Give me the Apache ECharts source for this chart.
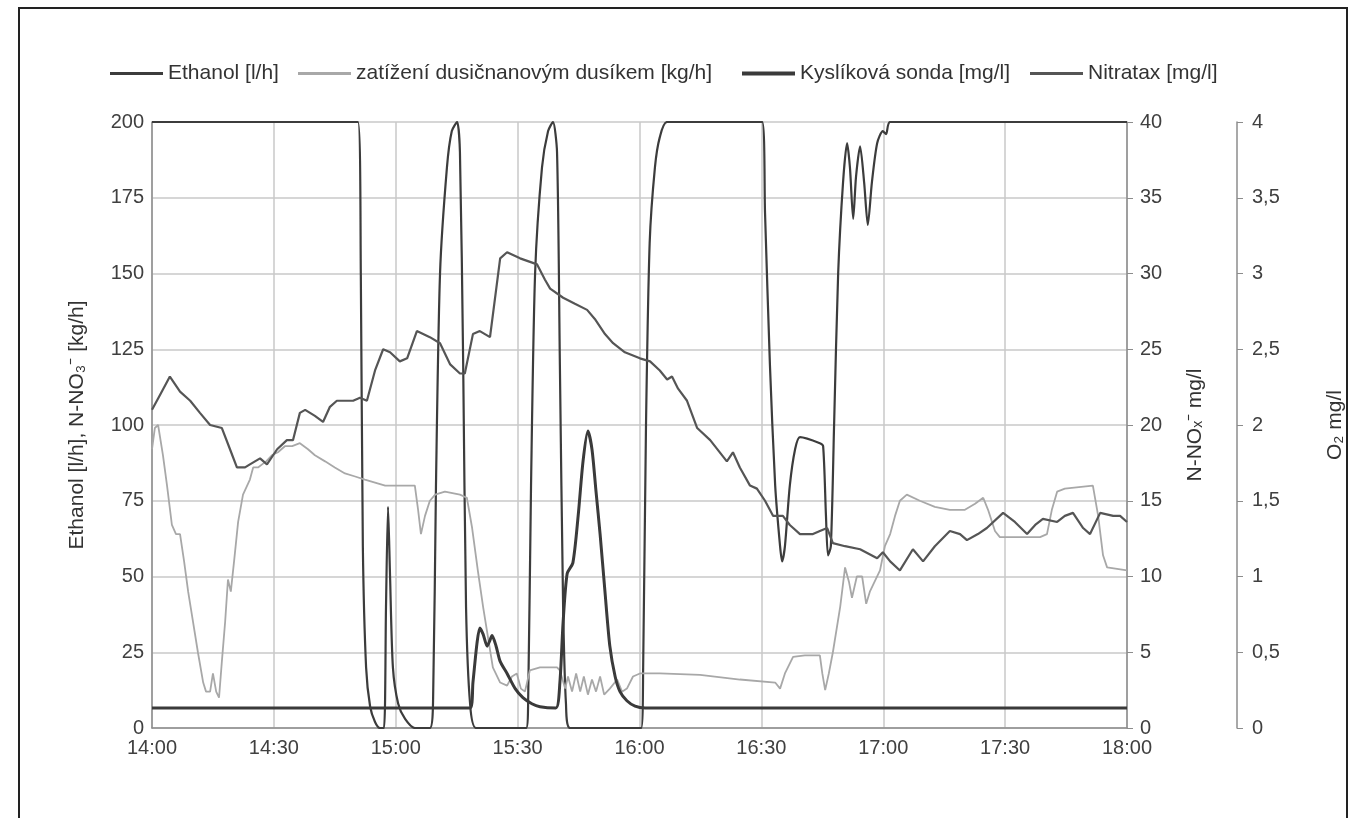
<!DOCTYPE html>
<html>
<head>
<meta charset="utf-8">
<script src="https://cdn.jsdelivr.net/npm/echarts@6.0.0/dist/echarts.min.js"></script>
<style>
  html, body { margin: 0; padding: 0; background: #fff; }
  #main { width: 1355px; height: 818px; }
</style>
</head>
<body>
<div id="main"></div>
<script>
// time in minutes after 14:00
const xTicks = ['14:00', '14:30', '15:00', '15:30', '16:00', '16:30', '17:00', '17:30', '18:00'];

// Ethanol [l/h]
const ethanolTime = [0, 50.7, 51.4, 51.9, 52.7, 53.7, 54.9, 56.1, 57.1, 57.6, 58.1, 58.6, 59.3, 60.6, 62.3, 64.7,
  68.4, 69.2, 69.9, 70.9, 72.6, 73.8, 75.1, 75.8, 76.6, 77.3, 78.3, 79.8,
  92.1, 92.6, 93.3, 94.3, 96.0, 97.5, 98.7, 99.7, 100.4, 101.2, 101.9, 102.9,
  120.4, 120.9, 121.6, 122.5, 123.8, 125.0, 126.8, 150.2, 150.9, 152.1, 153.4, 154.6, 155.1, 155.8, 157.0,
  158.3, 159.5, 164.4, 165.2, 165.9, 166.4, 167.1, 167.9, 168.9, 170.1, 171.1, 171.8, 172.6, 173.3, 174.3,
  175.3, 176.2, 177.2, 178.5, 179.9, 180.7, 181.7, 240];
const ethanolVal = [200, 200, 150, 60, 20, 7, 2, 0, 0, 40, 73, 50, 20, 8, 3, 0,
  0, 10, 80, 150, 185, 197, 200, 190, 120, 40, 8, 0,
  0, 10, 80, 150, 185, 197, 200, 190, 120, 40, 8, 0,
  0, 20, 100, 160, 185, 195, 200, 200, 170, 120, 80, 60, 55, 60, 80,
  92, 96, 94, 93, 70, 57, 60, 100, 150, 180, 193, 185, 168, 182, 192,
  180, 166, 180, 193, 197, 196, 200, 200];

// zatížení dusičnanovým dusíkem [kg/h]
const loadTime = [0, 0.7, 1.5, 2.7, 3.7, 4.9, 5.9, 6.9, 7.9, 8.9, 10.1, 11.3, 12.6, 13.3, 14.3, 15.0, 15.8, 16.5,
  17.2, 18.0, 18.7, 19.4, 20.2, 21.2, 22.4, 24.1, 24.9, 26.1, 27.1, 28.1, 29.5, 31.0, 32.7, 34.5, 36.4, 38.4,
  40.1, 42.6, 45.0, 47.5, 50.0, 52.4, 54.9, 57.4, 61.0, 64.7, 65.5, 66.2, 67.2, 68.4, 69.7, 72.1, 75.8, 77.5,
  78.8, 80.2, 81.5, 82.7, 83.9, 85.7, 87.4, 88.6, 89.8, 90.8, 91.8, 93.0, 95.5, 99.7, 100.4, 101.7, 102.4,
  103.4, 104.4, 105.4, 106.3, 107.3, 108.3, 109.3, 110.3, 111.3, 112.7, 114.5, 115.7, 116.9, 118.4, 120.1,
  125.0, 134.9, 144.7, 153.4, 154.6, 155.8, 157.8, 160.7, 164.4, 165.0, 165.7, 166.6, 167.6, 169.4, 170.6,
  171.6, 172.3, 173.5, 174.8, 175.8, 176.7, 179.2, 180.4, 181.7, 182.9, 184.1, 185.8, 189.0, 192.7, 196.4,
  200.1, 202.6, 204.6, 205.8, 207.5, 208.7, 218.6, 220.3, 221.5, 222.8, 224.7, 231.6, 232.9, 234.1, 235.1, 240];
const loadVal = [92, 99, 100, 90, 80, 67, 64, 64, 55, 45, 35, 25, 15, 12, 12, 18, 12, 10,
  22, 35, 49, 45, 55, 68, 77, 82, 86, 86, 87, 88, 90, 91, 93, 93, 94, 92,
  90, 88, 86, 84, 83, 82, 81, 80, 80, 80, 72, 64, 70, 75, 77, 78, 77, 76,
  66, 52, 40, 30, 20, 15, 14, 17, 18, 13, 12, 19, 20, 20, 19, 13, 17,
  12, 18, 12, 17, 11, 16, 12, 17, 11, 13, 16, 12, 13, 17, 18,
  18, 17.5, 16, 15, 13, 18, 23.5, 24, 24, 18, 12.5, 18, 25, 40, 53,
  48, 43, 50, 50, 41, 45, 52, 60, 64, 70, 75, 77, 75, 73, 72,
  72, 74, 76, 72, 65, 63, 63, 64, 72, 78, 79, 80, 70, 57, 53, 52];

// Kyslíková sonda [mg/l]
const oxygenTime = [0, 78.3, 79.0, 80.0, 80.7, 81.5, 82.5, 83.2, 83.7, 84.7, 85.7, 87.4, 89.4, 91.3, 93.5, 95.5,
  99.4, 100.4, 101.2, 102.2, 103.6, 104.9, 106.1, 107.3, 108.3, 109.3, 110.3, 111.5, 112.7, 114.0, 115.2,
  116.9, 118.9, 121.4, 240];
const oxygenVal = [0.132, 0.132, 0.30, 0.56, 0.66, 0.62, 0.54, 0.58, 0.61, 0.54, 0.44, 0.36, 0.26, 0.20, 0.16, 0.14,
  0.132, 0.30, 0.70, 1.02, 1.09, 1.40, 1.76, 1.96, 1.84, 1.56, 1.28, 0.90, 0.54, 0.34, 0.24,
  0.18, 0.144, 0.132, 0.132];

// Nitratax [mg/l]
const nitrataxTime = [0, 2.0, 4.4, 6.9, 9.4, 11.8, 14.3, 17.2, 19.2, 20.9, 22.9, 24.1, 26.6, 28.3, 30.8, 33.2, 34.7,
  36.4, 37.7, 40.1, 42.1, 43.8, 45.5, 49.5, 51.2, 52.9, 54.9, 56.9, 58.6, 61.0, 62.8, 65.2, 68.4, 70.9, 73.4,
  75.8, 77.0, 79.0, 80.7, 83.2, 85.7, 87.4, 90.6, 94.8, 96.7, 98.0, 101.2, 104.1, 107.1, 109.0, 111.5, 113.5,
  116.4, 120.1, 122.6, 125.0, 126.8, 128.0, 129.5, 131.7, 134.2, 137.4, 141.5, 143.0, 144.7, 147.2, 148.9,
  150.9, 152.9, 155.3, 157.0, 159.5, 162.7, 164.4, 166.2, 167.6, 170.6, 174.3, 178.5, 179.9, 181.7, 184.1,
  187.3, 189.8, 192.7, 196.4, 198.9, 200.6, 203.3, 205.5, 209.5, 212.4, 215.4, 217.4, 219.3, 222.8, 224.7,
  226.7, 229.2, 230.9, 233.4, 236.6, 238.3, 240];
const nitrataxVal = [21.0, 22.0, 23.2, 22.2, 21.6, 20.8, 20.0, 19.8, 18.4, 17.2, 17.2, 17.4, 17.8, 17.4, 18.4, 19.0, 19.0,
  20.8, 21.0, 20.6, 20.2, 21.2, 21.6, 21.6, 21.8, 21.6, 23.6, 25.0, 24.8, 24.2, 24.4, 26.2, 25.8, 25.4, 24.0,
  23.4, 23.4, 26.0, 26.2, 25.8, 31.0, 31.4, 31.0, 30.6, 29.6, 29.0, 28.4, 28.0, 27.6, 27.0, 26.0, 25.4,
  24.8, 24.4, 24.2, 23.6, 23.0, 23.2, 22.4, 21.6, 19.8, 19.0, 17.6, 18.2, 17.2, 16.0, 15.8,
  15.0, 14.0, 14.0, 13.4, 12.8, 12.8, 13.0, 13.2, 12.2, 12.0, 11.8, 11.2, 11.6, 11.0, 10.4,
  11.8, 11.0, 12.0, 13.0, 12.8, 12.4, 12.8, 13.2, 14.2, 13.6, 12.8, 13.4, 13.8, 13.6, 14.0,
  14.2, 13.2, 12.8, 14.2, 14.0, 14.0, 13.6];

const zip = (t, v) => t.map((x, i) => [x, v[i]]);

const chart = echarts.init(document.getElementById('main'));

const font = 'Liberation Sans';
const labelStyle = { fontFamily: font, fontSize: 20, color: '#404040' };
const gridColor = '#c8c8c8';
const axisGray = '#8c8c8c';
const comma = v => String(v).replace('.', ',');

// one legend per entry so the items sit where the original has them
const legendAt = (left, name, thick) => ({
  left: left, top: 63, data: [name], icon: 'rect',
  itemWidth: 53, itemHeight: thick, padding: 0,
  textStyle: { fontFamily: font, fontSize: 21, color: '#333' }
});

chart.setOption({
  backgroundColor: '#fff',
  animation: false,
  graphic: [{
    type: 'rect', silent: true, z: -1,
    shape: { x: 19, y: 8, width: 1328, height: 840 },
    style: { fill: 'none', stroke: '#222', lineWidth: 2 }
  }],
  legend: [
    legendAt(110, 'Ethanol [l/h]', 3),
    legendAt(298, 'zatížení dusičnanovým dusíkem [kg/h]', 3),
    legendAt(742, 'Kyslíková sonda [mg/l]', 4),
    legendAt(1030, 'Nitratax [mg/l]', 3)
  ],
  grid: { left: 152, right: 228, top: 122, bottom: 90, containLabel: false },
  xAxis: {
    type: 'value', min: 0, max: 240, interval: 30,
    axisLine: { show: true, lineStyle: { color: axisGray, width: 1.5 } },
    axisTick: { show: false },
    axisLabel: Object.assign({ margin: 10, formatter: v => xTicks[v / 30] }, labelStyle),
    splitLine: { show: true, lineStyle: { color: gridColor, width: 1.5 } }
  },
  yAxis: [{
    type: 'value', position: 'left', min: 0, max: 200, interval: 25,
    name: 'Ethanol [l/h], N-NO₃⁻ [kg/h]', nameLocation: 'middle', nameGap: 64, nameRotate: 90,
    nameTextStyle: { fontFamily: font, fontSize: 21, color: '#333' },
    axisLine: { show: true, lineStyle: { color: axisGray, width: 1.5 } },
    axisTick: { show: false },
    axisLabel: Object.assign({ margin: 8 }, labelStyle),
    splitLine: { show: true, lineStyle: { color: gridColor, width: 1.5 } }
  }, {
    type: 'value', position: 'right', offset: 0, min: 0, max: 40, interval: 5,
    name: 'N-NOₓ⁻ mg/l', nameLocation: 'middle', nameGap: 58, nameRotate: 90,
    nameTextStyle: { fontFamily: font, fontSize: 21, color: '#333' },
    axisLine: { show: true, lineStyle: { color: axisGray, width: 1.5 } },
    axisTick: { show: true, inside: false, length: 6, lineStyle: { color: axisGray } },
    axisLabel: Object.assign({ margin: 13 }, labelStyle),
    splitLine: { show: false }
  }, {
    type: 'value', position: 'right', offset: 110, min: 0, max: 4, interval: 0.5,
    name: 'O₂ mg/l', nameLocation: 'middle', nameGap: 88, nameRotate: 90,
    nameTextStyle: { fontFamily: font, fontSize: 21, color: '#333' },
    axisLine: { show: true, lineStyle: { color: axisGray, width: 1.5 } },
    axisTick: { show: true, inside: false, length: 6, lineStyle: { color: axisGray } },
    axisLabel: Object.assign({ margin: 15, formatter: comma }, labelStyle),
    splitLine: { show: false }
  }],
  series: [{
    name: 'Ethanol [l/h]', type: 'line', yAxisIndex: 0, showSymbol: false, symbol: 'none',
    smooth: 0.25, data: zip(ethanolTime, ethanolVal),
    lineStyle: { color: '#3c3c3c', width: 2.2 }, itemStyle: { color: '#3c3c3c' }
  }, {
    name: 'zatížení dusičnanovým dusíkem [kg/h]', type: 'line', yAxisIndex: 0, showSymbol: false, symbol: 'none',
    data: zip(loadTime, loadVal),
    lineStyle: { color: '#a8a8a8', width: 1.8 }, itemStyle: { color: '#a8a8a8' }
  }, {
    name: 'Kyslíková sonda [mg/l]', type: 'line', yAxisIndex: 2, showSymbol: false, symbol: 'none',
    smooth: 0.25, data: zip(oxygenTime, oxygenVal),
    lineStyle: { color: '#3a3a3a', width: 3 }, itemStyle: { color: '#3a3a3a' }
  }, {
    name: 'Nitratax [mg/l]', type: 'line', yAxisIndex: 1, showSymbol: false, symbol: 'none',
    data: zip(nitrataxTime, nitrataxVal),
    lineStyle: { color: '#555', width: 2.2 }, itemStyle: { color: '#555' }
  }]
});
</script>
</body>
</html>
